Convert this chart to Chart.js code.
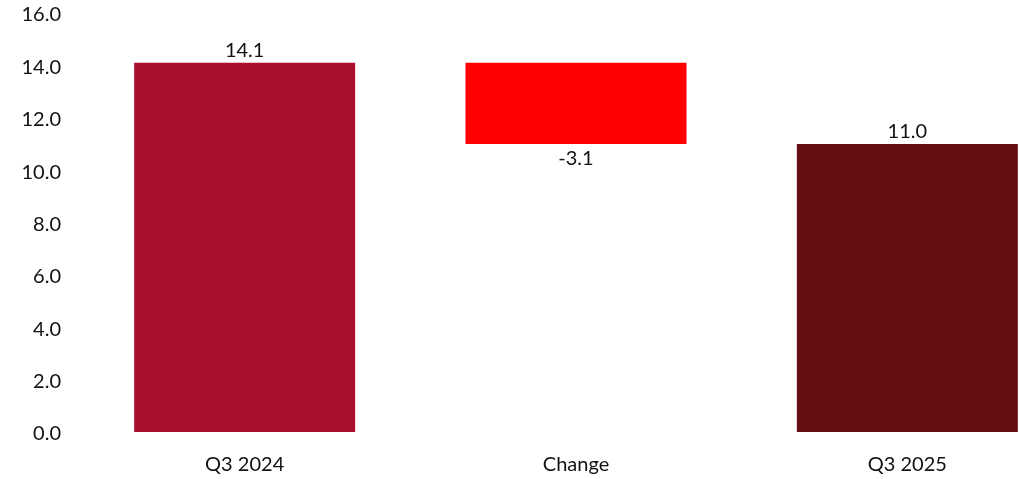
<!DOCTYPE html>
<html>
<head>
<meta charset="utf-8">
<script src="https://cdn.jsdelivr.net/npm/chart.js@4/dist/chart.umd.min.js"></script>
<style>
  html, body { margin: 0; padding: 0; background: #fff; overflow: hidden; }
  #wrap { position: relative; width: 1074px; height: 479px; }
</style>
</head>
<body>
<div id="wrap"><canvas id="chart"></canvas></div>
<script>
// Waterfall: opening level, change, closing level
const categories = ['Q3 2024', 'Change', 'Q3 2025'];
const values = [14.1, -3.1, 11.0];
const kinds = ['total', 'delta', 'total'];
const barColors = ['#A90F2D', '#FF0000', '#650F14'];
const yTicks = [0, 2, 4, 6, 8, 10, 12, 14, 16];

// Floating ranges for each bar
const ranges = [];
let running = 0;
values.forEach((v, i) => {
  if (kinds[i] === 'total') {
    ranges.push([0, v]);
    running = v;
  } else {
    const end = running + v;
    ranges.push([Math.min(running, end), Math.max(running, end)]);
    running = end;
  }
});

const FONT = 'Lato, "Open Sans", sans-serif';

const valueLabels = {
  id: 'valueLabels',
  afterDatasetsDraw(chart) {
    const ctx = chart.ctx;
    const meta = chart.getDatasetMeta(0);
    ctx.save();
    ctx.font = '20px ' + FONT;
    ctx.fillStyle = '#111';
    ctx.textAlign = 'center';
    meta.data.forEach((bar, i) => {
      const v = values[i];
      const text = v.toFixed(1);
      const yScale = chart.scales.y;
      if (v >= 0) {
        ctx.textBaseline = 'bottom';
        ctx.fillText(text, bar.x, yScale.getPixelForValue(ranges[i][1]) - 2);
      } else {
        ctx.textBaseline = 'top';
        ctx.fillText(text, bar.x, yScale.getPixelForValue(ranges[i][0]) + 5);
      }
    });
    ctx.restore();
  }
};

new Chart(document.getElementById('chart'), {
  type: 'bar',
  data: {
    labels: categories,
    datasets: [{
      data: ranges,
      backgroundColor: barColors,
      borderWidth: 0,
      barPercentage: 1,
      categoryPercentage: 0.667
    }]
  },
  options: {
    responsive: true,
    maintainAspectRatio: false,
    animation: false,
    layout: { padding: { top: 13, right: 1, left: 0, bottom: 0 } },
    plugins: { legend: { display: false }, tooltip: { enabled: false } },
    scales: {
      x: {
        grid: { display: false, drawTicks: false },
        border: { display: false },
        ticks: { color: '#111', font: { family: FONT, size: 20 }, padding: 21 },
        afterFit(scale) { scale.height = 47; }
      },
      y: {
        min: 0,
        max: 16,
        grid: { display: false, drawTicks: false },
        border: { display: false },
        afterBuildTicks(scale) { scale.ticks = yTicks.map(v => ({ value: v })); },
        ticks: {
          color: '#111',
          font: { family: FONT, size: 20 },
          padding: 18,
          labelOffset: 2,
          callback: v => Number(v).toFixed(1)
        },
        afterFit(scale) {
          scale.width = 79;
          scale.paddingTop = 0;
          scale.paddingBottom = 0;
        }
      }
    }
  },
  plugins: [valueLabels]
});
</script>
</body>
</html>
